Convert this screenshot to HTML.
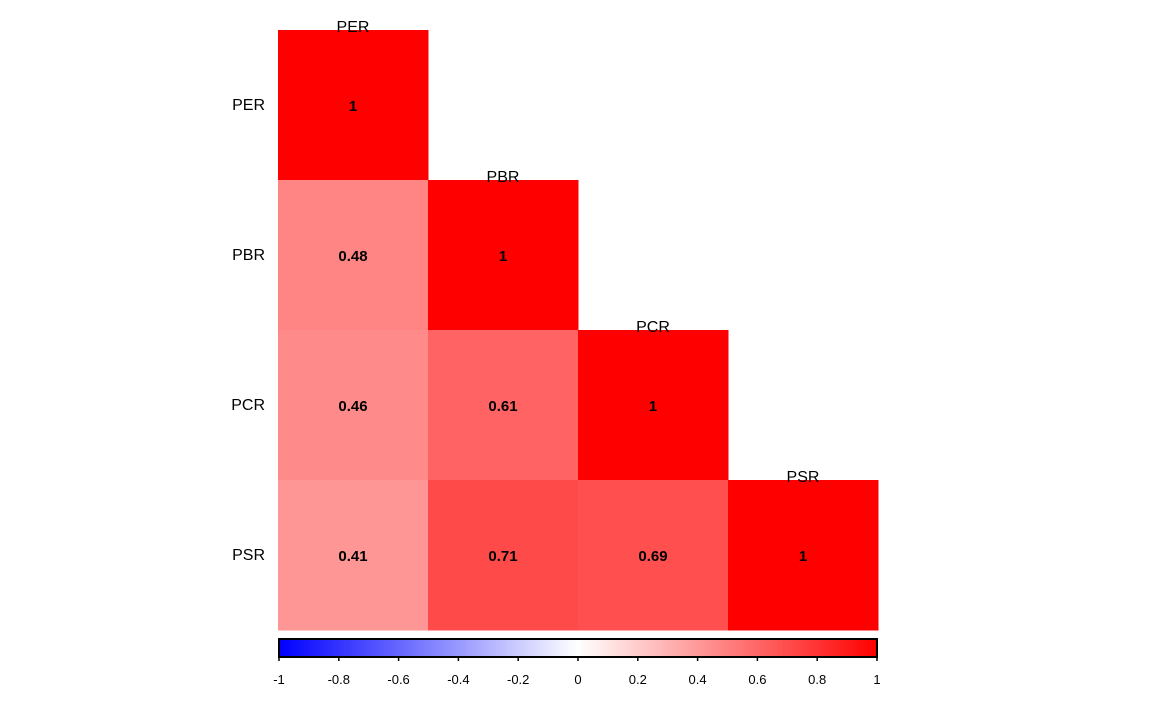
<!DOCTYPE html>
<html><head><meta charset="utf-8"><style>
body{margin:0;background:#fff;width:1152px;height:711px;overflow:hidden;font-family:"Liberation Sans",sans-serif}
</style></head><body>
<svg id="chart" width="1152" height="711" xmlns="http://www.w3.org/2000/svg">
<defs><linearGradient id="cg" x1="0" x2="1" y1="0" y2="0">
<stop offset="0" stop-color="#0000ff"/><stop offset="0.5" stop-color="#ffffff"/><stop offset="1" stop-color="#ff0000"/>
</linearGradient></defs>
<g id="cells"></g>
<rect x="279" y="639" width="598" height="18" fill="url(#cg)" stroke="#000" stroke-width="2"/>
<g id="cbticks"></g>
</svg>
<script>
const vars=["PER","PBR","PCR","PSR"];
const corr=[[1],[0.48,1],[0.46,0.61,1],[0.41,0.71,0.69,1]];
const cbTicks=[-1,-0.8,-0.6,-0.4,-0.2,0,0.2,0.4,0.6,0.8,1];
const NS="http://www.w3.org/2000/svg";
const x0=278,y0=30,cs=150;
const cx=i=>x0+i*cs, cy=i=>y0+i*cs;
const cbX=v=>279+(v+1)/2*598;
function color(v){
  let r,g,b;
  if(v>=0){r=255;g=b=Math.round(255*(1-v));}else{b=255;r=g=Math.round(255*(1+v));}
  return `rgb(${r},${g},${b})`;
}
function mk(t,a,p){const e=document.createElementNS(NS,t);for(const k in a)e.setAttribute(k,a[k]);p.appendChild(e);return e;}
const cells=document.getElementById('cells');
corr.forEach((row,i)=>{
  row.forEach((v,j)=>{
    const r=mk('rect',{x:cx(j),y:cy(i),width:cs+0.5,height:cs+0.5,fill:color(v)},cells);
    
    
    const t=mk('text',{x:cx(j)+cs/2,y:cy(i)+cs/2+6,'text-anchor':'middle','font-size':15,'font-weight':'bold',fill:'#000'},cells);
    t.textContent=String(v);
    
    
  });
  const yl=mk('text',{x:265,y:cy(i)+cs/2+5,'text-anchor':'end','font-size':16,fill:'#000'},cells);
  yl.textContent=vars[i];
  
  
  const xl=mk('text',{x:cx(i)+cs/2,y:cy(i)+2,'text-anchor':'middle','font-size':16,fill:'#000'},cells);
  xl.textContent=vars[i];
  
  
});
const tg=document.getElementById('cbticks');
cbTicks.forEach(v=>{
  const x=cbX(v);
  const l=mk('line',{x1:x,x2:x,y1:657,y2:661,stroke:'#000','stroke-width':1.5},tg);
  
  
  const t=mk('text',{x:x,y:684,'text-anchor':'middle','font-size':13,fill:'#000'},tg);
  t.textContent=String(v);
  
  
});
</script>
</body></html>
